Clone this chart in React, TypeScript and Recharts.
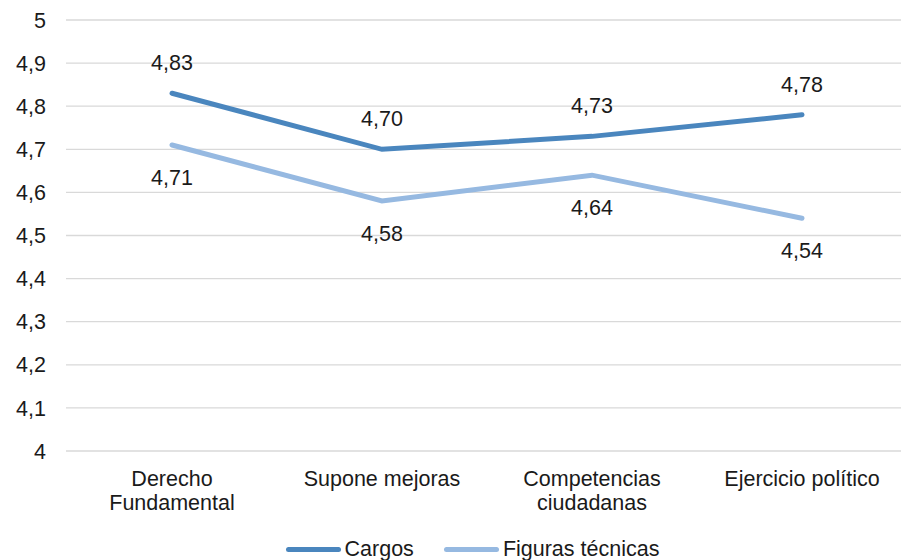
import { LineChart, Line, XAxis, YAxis, CartesianGrid, Legend, LabelList } from "recharts";

const CATEGORIES = ["Derecho\nFundamental", "Supone mejoras", "Competencias\nciudadanas", "Ejercicio político"];
const CARGOS = [4.83, 4.7, 4.73, 4.78];
const FIGURAS = [4.71, 4.58, 4.64, 4.54];
const Y_TICKS = [4, 4.1, 4.2, 4.3, 4.4, 4.5, 4.6, 4.7, 4.8, 4.9, 5];

const SERIES = [
  { key: "cargos", name: "Cargos", color: "#4a86be", labelDy: -30 },
  { key: "figuras", name: "Figuras técnicas", color: "#96b9e1", labelDy: 33 },
];

const data = CATEGORIES.map((c, i) => ({ name: c, cargos: CARGOS[i], figuras: FIGURAS[i] }));

const FONT = "'Liberation Sans', Arial, sans-serif";
const FS = 21.5;
const comma = (v: number, d: number) => v.toFixed(d).replace(".", ",");

const XTick = (props: any) => {
  const { x, y, payload } = props;
  const lines = String(payload.value).split("\n");
  return (
    <text x={x} y={y} textAnchor="middle" fontSize={FS} fontFamily={FONT} fill="#1a1a1a">
      {lines.map((l, i) => (
        <tspan key={i} x={x} dy={i === 0 ? 27 : 24}>{l}</tspan>
      ))}
    </text>
  );
};

const makeLabel = (dy: number) => (props: any) => {
  const { x, y, value } = props;
  return (
    <text x={x} y={y + dy} textAnchor="middle" dominantBaseline="central" fontSize={FS} fontFamily={FONT} fill="#1a1a1a">
      {comma(Number(value), 2)}
    </text>
  );
};

const LegendContent = () => (
  <div style={{ display: "flex", justifyContent: "center", alignItems: "center", paddingLeft: 39, fontFamily: FONT, fontSize: FS, lineHeight: "22px", color: "#1a1a1a", height: 22 }}>
    {SERIES.map((s, i) => (
      <div key={s.key} style={{ display: "flex", alignItems: "center", marginLeft: i === 0 ? 0 : 30 }}>
        <div style={{ width: 55, height: 5, borderRadius: 3, background: s.color, marginRight: 4 }} />
        <span>{s.name}</span>
      </div>
    ))}
  </div>
);

export default function App() {
  return (
    <div style={{ position: "absolute", left: 0, top: 0, width: 901, height: 560, overflow: "hidden", background: "#fff" }}>
      <LineChart width={906} height={560} data={data} margin={{ top: 20, right: 0, left: 0, bottom: 0 }}>
        <CartesianGrid vertical={false} stroke="#d9d9d9" strokeWidth={1.3} />
        <XAxis dataKey="name" axisLine={false} tickLine={false} tick={<XTick />} height={87} padding={{ left: 106, right: 104 }} interval={0} />
        <YAxis
          domain={[4, 5]}
          ticks={Y_TICKS}
          axisLine={false}
          tickLine={false}
          width={66}
          tickFormatter={(v: number) => (v === 4 || v === 5 ? String(v) : comma(v, 1))}
          tick={{ fontSize: FS, fill: "#1a1a1a", fontFamily: FONT }}
          tickMargin={14}
        />
        <Legend verticalAlign="bottom" content={<LegendContent />} />
        {SERIES.map((s) => (
          <Line
            key={s.key}
            dataKey={s.key}
            name={s.name}
            stroke={s.color}
            strokeWidth={5}
            strokeLinecap="round"
            dot={false}
            activeDot={false}
            isAnimationActive={false}
            type="linear"
          >
            <LabelList dataKey={s.key} content={makeLabel(s.labelDy)} />
          </Line>
        ))}
      </LineChart>
    </div>
  );
}
